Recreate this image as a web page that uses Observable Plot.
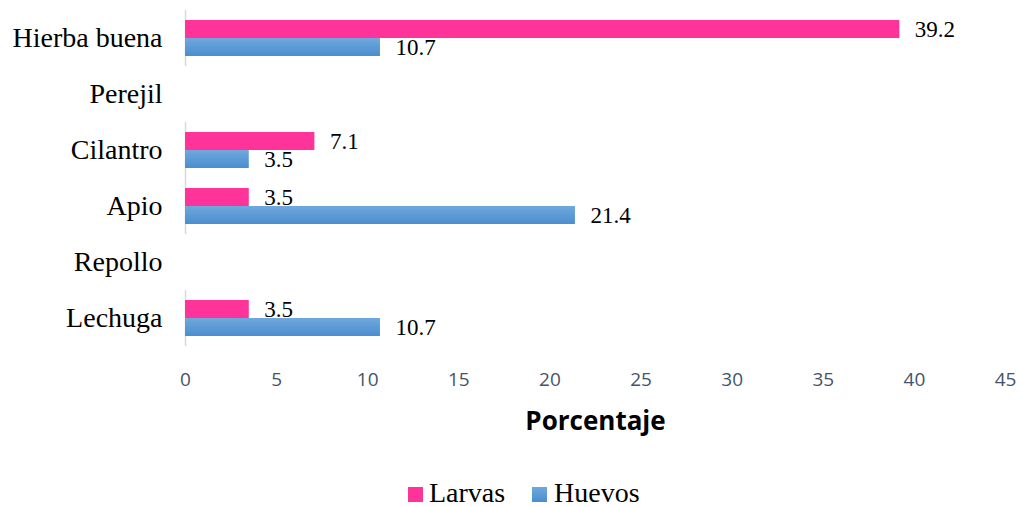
<!DOCTYPE html>
<html><head><meta charset="utf-8">
<script src="https://cdn.jsdelivr.net/npm/d3@7"></script>
<script src="https://cdn.jsdelivr.net/npm/@observablehq/plot@0.6"></script>
<style>
body{margin:0;background:#fff;overflow:hidden;}
#chart svg{display:block;}
g[aria-label="fy-axis tick label"] text{font-family:"Liberation Serif",serif;font-size:28px;fill:#000;}
g[aria-label="x-axis tick label"] text{font-family:"Open Sans",sans-serif;font-size:19px;fill:#44546A;}
g[aria-label="x-axis label"] text{font-family:"Open Sans",sans-serif;font-size:26px;font-weight:bold;fill:#000;}
#legend{position:relative;height:57px;width:1023px;font-family:"Liberation Serif",serif;font-size:28px;color:#000;}
#legend .sw{position:absolute;width:15px;height:15px;top:37px;}
#legend .lb{position:absolute;top:29px;height:28px;line-height:28px;white-space:nowrap;}
</style></head><body>
<div id="chart"></div>
<div id="legend">
  <span class="sw" style="left:408px;background:#ff3399"></span>
  <span class="lb" style="left:429px">Larvas</span>
  <span class="sw" style="left:532px;background:linear-gradient(#6fa8dc,#4a8ed0)"></span>
  <span class="lb" style="left:554px">Huevos</span>
</div>
<script>
const categories = ["Hierba buena","Perejil","Cilantro","Apio","Repollo","Lechuga"];
const series = ["Larvas","Huevos"];
const larvas = [39.2, null, 7.1, 3.5, null, 3.5];
const huevos = [10.7, null, 3.5, 21.4, null, 10.7];
const xTicks = [0,5,10,15,20,25,30,35,40,45];

const rows = categories.flatMap((c,i)=>[
  {cat:c, serie:series[0], value:larvas[i]},
  {cat:c, serie:series[1], value:huevos[i]}
]).filter(d=>d.value!=null);
const rowsL = rows.filter(d=>d.serie===series[0]);
const rowsH = rows.filter(d=>d.serie===series[1]);

const chart = Plot.plot({
  width:1023, height:450,
  marginTop:10, marginBottom:104, marginLeft:185, marginRight:18,
  style:{background:"#fff"},
  x:{domain:[0,45]},
  fy:{domain:categories, padding:0, tickSize:0, tickPadding:23, label:null, axis:"left"},
  y:{domain:series, paddingInner:0, paddingOuter:0.474, axis:null},
  marks:[
    Plot.axisX({ticks:xTicks, tickSize:0, tickPadding:26, facetAnchor:"bottom", label:"Porcentaje", labelArrow:false, labelAnchor:"center", labelOffset:83}),
    Plot.ruleX([0],{stroke:"#d9d9d9", strokeWidth:1.5}),
    Plot.barX(rowsL,{x:"value", y:"serie", fy:"cat", fill:"#ff3399"}),
    Plot.barX(rowsH,{x:"value", y:"serie", fy:"cat", fill:"url(#gradHuevos)"}),
    Plot.text(rows,{x:"value", y:"serie", fy:"cat", text:d=>d.value.toFixed(1), textAnchor:"start", dx:15, fontSize:23, fontFamily:"Liberation Serif", fill:"#000"})
  ]
});
const ns="http://www.w3.org/2000/svg";
const defs=document.createElementNS(ns,"defs");
const lg=document.createElementNS(ns,"linearGradient");
lg.setAttribute("id","gradHuevos");lg.setAttribute("x1","0");lg.setAttribute("y1","0");lg.setAttribute("x2","0");lg.setAttribute("y2","1");
[["0%","#6fa8dc"],["100%","#4a8ed0"]].forEach(([o,c])=>{const s=document.createElementNS(ns,"stop");s.setAttribute("offset",o);s.setAttribute("stop-color",c);lg.appendChild(s);});
defs.appendChild(lg);chart.insertBefore(defs,chart.firstChild);
document.getElementById("chart").appendChild(chart);
</script>
</body></html>
